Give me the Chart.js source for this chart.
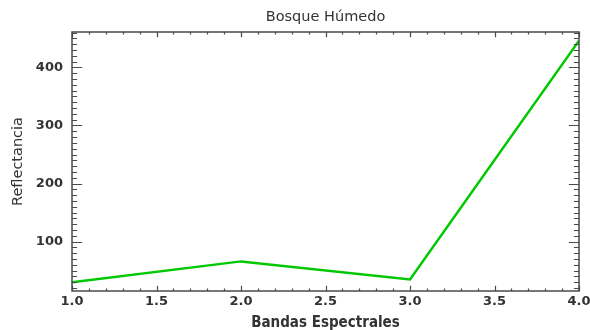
<!DOCTYPE html>
<html>
<head>
<meta charset="utf-8">
<script src="https://cdn.jsdelivr.net/npm/chart.js@4"></script>
<style>
  html, body { margin: 0; padding: 0; background: #fff; }
  #wrap { width: 590px; height: 330px; }
</style>
</head>
<body>
<div id="wrap"><canvas id="c" width="590" height="330"></canvas></div>
<script>
// Spectral bands and reflectance values for the humid forest sample
const bands = [1, 2, 3, 4];
const reflectance = [30, 66, 35, 446];
const xTickValues = [1.0, 1.5, 2.0, 2.5, 3.0, 3.5, 4.0];
const yTickValues = [100, 200, 300, 400];
const chartTitle = 'Bosque Húmedo';
const xTitle = 'Bandas Espectrales';
const yTitle = 'Reflectancia';

const AXIS_COLOR = '#4a4a4a';
const TEXT_COLOR = '#333333';

// Boxed frame with inward ticks on all four sides
const framePlugin = {
  id: 'frame',
  afterDraw(chart) {
    const { ctx, chartArea: a, scales } = chart;
    const xs = scales.x, ys = scales.y;
    const w = a.right - a.left, h = a.bottom - a.top;
    const xMaj = 0.02 * h, xMin = xMaj / 2;
    const yMaj = 0.02 * w, yMin = yMaj / 2;
    ctx.save();
    ctx.strokeStyle = AXIS_COLOR;
    ctx.lineWidth = 1.5;
    ctx.strokeRect(a.left, a.top, w, h);
    ctx.lineWidth = 1.2;
    ctx.beginPath();
    // x ticks (major every 0.5, minor every 0.1)
    for (let i = 0; i <= 30; i++) {
      const v = xs.min + i * 0.1;
      const px = Math.round(xs.getPixelForValue(v)) + 0.5;
      const len = (i % 5 === 0) ? xMaj : xMin;
      ctx.moveTo(px, a.bottom); ctx.lineTo(px, a.bottom - len);
      ctx.moveTo(px, a.top); ctx.lineTo(px, a.top + len);
    }
    // y ticks (major every 100, minor every 10)
    for (let v = 20; v <= ys.max; v += 10) {
      const py = Math.round(ys.getPixelForValue(v)) + 0.5;
      const len = (v % 100 === 0) ? yMaj : yMin;
      ctx.moveTo(a.left, py); ctx.lineTo(a.left + len, py);
      ctx.moveTo(a.right, py); ctx.lineTo(a.right - len, py);
    }
    ctx.stroke();

    // titles
    ctx.fillStyle = TEXT_COLOR;
    ctx.textAlign = 'center';
    ctx.textBaseline = 'middle';
    ctx.font = '14.5px "DejaVu Sans"';
    ctx.fillText(chartTitle, (a.left + a.right) / 2, 17);
    ctx.font = 'bold 15px "DejaVu Sans Condensed", "DejaVu Sans"';
    ctx.fillText(xTitle, (a.left + a.right) / 2, 323);
    ctx.save();
    ctx.translate(18, (a.top + a.bottom) / 2);
    ctx.rotate(-Math.PI / 2);
    ctx.font = '14.5px "DejaVu Sans"';
    ctx.fillText(yTitle, 0, 0);
    ctx.restore();
    ctx.restore();
  }
};

new Chart(document.getElementById('c'), {
  type: 'line',
  data: {
    datasets: [{
      data: bands.map((b, i) => ({ x: b, y: reflectance[i] })),
      borderColor: '#00c800',
      borderWidth: 2.5,
      pointRadius: 0,
      tension: 0,
      fill: false
    }]
  },
  options: {
    responsive: false,
    animation: false,
    devicePixelRatio: 1,
    layout: { padding: { left: 0, right: 11, top: 32, bottom: 0 } },
    plugins: { legend: { display: false }, tooltip: { enabled: false } },
    scales: {
      x: {
        type: 'linear',
        min: 1, max: 4,
        afterBuildTicks: s => { s.ticks = xTickValues.map(v => ({ value: v })); },
        afterFit: s => { s.height = 39; s.paddingLeft = 0; s.paddingRight = 0; },
        grid: { display: false, drawTicks: false },
        border: { display: false },
        ticks: {
          color: TEXT_COLOR,
          padding: 3,
          maxRotation: 0,
          autoSkip: false,
          font: { family: 'DejaVu Sans', size: 13, weight: 'bold' },
          callback: v => Number(v).toFixed(1)
        }
      },
      y: {
        type: 'linear',
        min: 15, max: 461,
        afterBuildTicks: s => { s.ticks = yTickValues.map(v => ({ value: v })); },
        afterFit: s => { s.width = 72; },
        grid: { display: false, drawTicks: false },
        border: { display: false },
        ticks: {
          color: TEXT_COLOR,
          padding: 9,
          font: { family: 'DejaVu Sans', size: 13, weight: 'bold' }
        }
      }
    }
  },
  plugins: [framePlugin]
});
</script>
</body>
</html>
